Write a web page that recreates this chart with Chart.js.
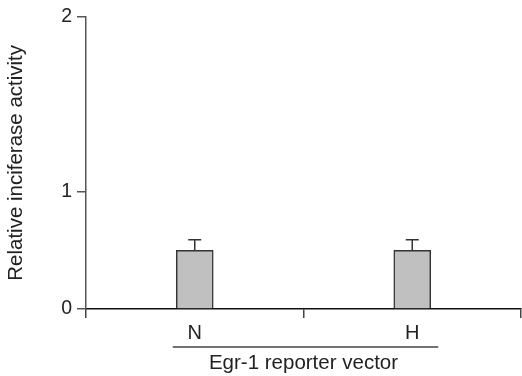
<!DOCTYPE html>
<html>
<head>
<meta charset="utf-8">
<script src="https://cdn.jsdelivr.net/npm/chart.js@4"></script>
<style>
  html, body { margin: 0; padding: 0; background: #fff; }
  #wrap { width: 522px; height: 376px; }
</style>
</head>
<body>
<div id="wrap"><canvas id="chart" width="522" height="376"></canvas></div>
<script>
// data
const categories = ['N', 'H'];
const activity = [0.5, 0.5];
const errors = [0.09, 0.09];
// the original axis puts its "2" tick higher than a linear scale would
const yTickValues = [0, 1, 2.49];
const yTickLabels = ['0', '1', '2'];
const groupLabel = 'Egr-1 reporter vector';

const FONT = 'Arial, "Liberation Sans", Helvetica, sans-serif';
const INK = '#222';

// error bars: stem + cap from each bar's top
const errorBars = {
    id: 'errorBars',
    afterDatasetsDraw(chart) {
        const { ctx, scales: { y } } = chart;
        const meta = chart.getDatasetMeta(0);
        ctx.save();
        ctx.strokeStyle = '#333';
        ctx.lineWidth = 1.5;
        meta.data.forEach((bar, i) => {
            const top = y.getPixelForValue(activity[i] + errors[i]);
            ctx.beginPath();
            ctx.moveTo(bar.x, bar.y);
            ctx.lineTo(bar.x, top);
            ctx.moveTo(bar.x - 6.5, top);
            ctx.lineTo(bar.x + 6.5, top);
            ctx.stroke();
        });
        ctx.restore();
    }
};

// underline grouping both categories, sitting above the x title
const groupLine = {
    id: 'groupLine',
    afterDraw(chart) {
        const { ctx, scales: { x } } = chart;
        const x0 = x.getPixelForValue(0) - 22;
        const x1 = x.getPixelForValue(categories.length - 1) + 26;
        const yy = x.top + 38;
        ctx.save();
        ctx.strokeStyle = '#444';
        ctx.lineWidth = 1.5;
        ctx.beginPath();
        ctx.moveTo(x0, yy);
        ctx.lineTo(x1, yy);
        ctx.stroke();
        ctx.restore();
    }
};

new Chart(document.getElementById('chart'), {
    type: 'bar',
    data: {
        labels: categories,
        datasets: [{
            data: activity,
            backgroundColor: '#c0c0c0',
            borderColor: '#333',
            borderWidth: 1.5,
            borderSkipped: 'bottom',
            barThickness: 37
        }]
    },
    options: {
        responsive: false,
        animation: false,
        devicePixelRatio: 1,
        layout: { padding: { top: 15, right: 1, left: 0, bottom: 0 } },
        plugins: {
            legend: { display: false },
            tooltip: { enabled: false }
        },
        scales: {
            x: {
                offset: true,
                grid: {
                    offset: true,
                    drawOnChartArea: false,
                    tickLength: 9,
                    color: '#444',
                    lineWidth: 1.5
                },
                border: { color: '#111', width: 1.5 },
                ticks: {
                    color: INK,
                    padding: 3,
                    font: { family: FONT, size: 20 }
                },
                title: {
                    display: true,
                    text: groupLabel,
                    color: INK,
                    padding: { top: 0, bottom: 0 },
                    font: { family: FONT, size: 20.5 }
                },
                afterFit(scale) { scale.height = 67; }
            },
            y: {
                min: 0,
                max: yTickValues[yTickValues.length - 1],
                afterBuildTicks(scale) {
                    scale.ticks = yTickValues.map(v => ({ value: v }));
                },
                grid: {
                    drawOnChartArea: false,
                    tickLength: 9,
                    color: '#555',
                    lineWidth: 1.5
                },
                border: { color: '#555', width: 1.5 },
                ticks: {
                    color: INK,
                    padding: 5,
                    font: { family: FONT, size: 19.5 },
                    callback: (v, i) => yTickLabels[i]
                },
                title: {
                    display: true,
                    text: 'Relative inciferase activity',
                    color: INK,
                    padding: { top: 4, bottom: 0 },
                    font: { family: FONT, size: 20.5 }
                },
                afterFit(scale) { scale.width = 86; }
            }
        }
    },
    plugins: [errorBars, groupLine]
});
</script>
</body>
</html>
